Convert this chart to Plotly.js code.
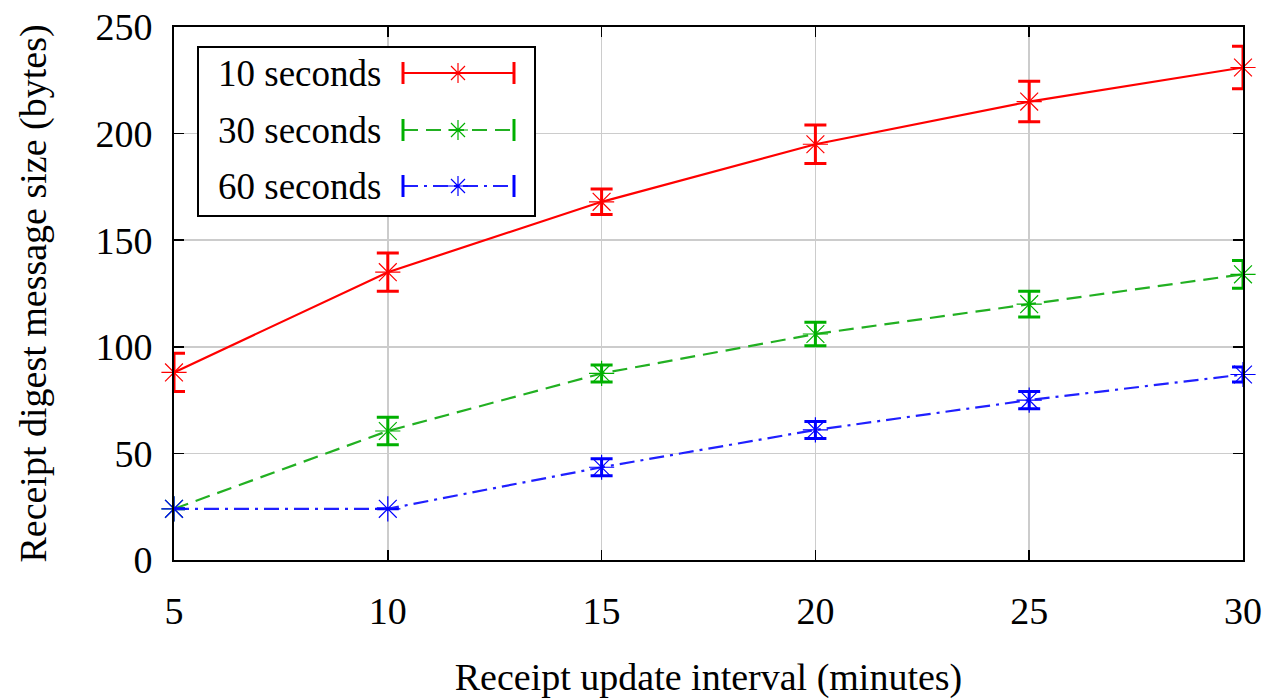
<!DOCTYPE html>
<html>
<head>
<meta charset="utf-8">
<script src="https://cdn.plot.ly/plotly-3.0.1.min.js"></script>
<style>html,body{margin:0;padding:0;background:#fff;}#chart{width:1265px;height:699px;}</style>
</head>
<body>
<div id="chart"></div>
<script>
// Data
var intervals = [5, 10, 15, 20, 25, 30];
var s10 = [88, 135, 168, 195, 215, 231];
var s10err = [9, 9, 6, 9, 9.5, 10];
var s30 = [24, 60.5, 87.5, 106, 120, 134];
var s30err = [0, 6.5, 4, 5.5, 6, 6.5];
var s60 = [24, 24, 43.5, 61, 75, 87];
var s60err = [0, 0, 4, 4, 4, 3.5];
var seriesNames = ['10 seconds', '30 seconds', '60 seconds'];
var colors = ['#ff0000', '#00b000', '#0000ff'];
var lineColors = ['#ff0000', '#22b022', '#2020ff'];
var dashes = ['solid', '15px,8px', '15px,6px,3px,6px'];
var xTicks = [5, 10, 15, 20, 25, 30];
var yTicks = [0, 50, 100, 150, 200, 250];

var FONT = '"Liberation Serif"';
var L = 174, R = 1243, T = 27, B = 560;
function px(x) { return (x - L) / (R - L); }
function py(y) { return (B - y) / (B - T); }

var ys = [s10, s30, s60];
var errs = [s10err, s30err, s60err];
var traces = [];
for (var i = 0; i < 3; i++) {
  traces.push({
    x: intervals, y: ys[i], name: seriesNames[i], type: 'scatter', mode: 'lines+markers',
    cliponaxis: false,
    line: {color: lineColors[i], width: 2.2, dash: dashes[i]},
    marker: {symbol: 'asterisk-open', size: 21, color: colors[i], line: {color: colors[i], width: 1.2}},
    error_y: {type: 'data', array: errs[i], visible: true, color: colors[i], thickness: 3, width: 11},
    showlegend: false
  });
}

// Legend drawn manually (text left, sample right)
var shapes = [];
var annotations = [];
shapes.push({type: 'rect', xref: 'paper', yref: 'paper', x0: px(198), x1: px(535), y0: py(216), y1: py(47),
  line: {color: '#000', width: 2}, fillcolor: '#fff', layer: 'above'});
var rowsY = [73, 130, 186];
for (var k = 0; k < 3; k++) {
  var yy = py(rowsY[k]);
  annotations.push({xref: 'paper', yref: 'paper', x: px(383), y: yy, xanchor: 'right', yanchor: 'middle',
    text: seriesNames[k], showarrow: false, font: {family: FONT, size: 37, color: '#000'}});
  shapes.push({type: 'line', xref: 'paper', yref: 'paper', x0: px(403), x1: px(514), y0: yy, y1: yy,
    line: {color: lineColors[k], width: 2.2, dash: dashes[k]}, layer: 'above'});
  [403, 514].forEach(function (xc) {
    shapes.push({type: 'line', xref: 'paper', yref: 'paper', xsizemode: 'pixel', ysizemode: 'pixel',
      xanchor: px(xc), yanchor: yy, x0: 0, x1: 0, y0: -11, y1: 11,
      line: {color: colors[k], width: 3}, layer: 'above'});
  });
  shapes.push({type: 'path', xref: 'paper', yref: 'paper', xsizemode: 'pixel', ysizemode: 'pixel',
    xanchor: px(458), yanchor: yy,
    path: 'M0,-10L0,10M-10,0L10,0M-7,-7L7,7M-7,7L7,-7',
    line: {color: colors[k], width: 1.2}, layer: 'above'});
}

var layout = {
  width: 1265, height: 699,
  margin: {l: L, r: 1265 - R, t: T, b: 699 - B},
  paper_bgcolor: '#fff', plot_bgcolor: '#fff',
  font: {family: FONT, size: 38, color: '#000'},
  xaxis: {
    range: [5, 30], tickvals: xTicks, ticktext: xTicks.map(String),
    ticks: 'inside', ticklen: 10, tickcolor: '#000', tickwidth: 1.5,
    showgrid: true, gridcolor: '#cccccc', gridwidth: 1.5,
    showline: true, linecolor: '#000', linewidth: 2, mirror: 'ticks',
    zeroline: false, ticklabelstandoff: 16,
    tickfont: {family: FONT, size: 38, color: '#000'},
    title: {text: 'Receipt update interval (minutes)', font: {family: FONT, size: 38, color: '#000'}, standoff: 38}
  },
  yaxis: {
    range: [0, 250], tickvals: yTicks, ticktext: yTicks.map(String),
    ticks: 'inside', ticklen: 10, tickcolor: '#000', tickwidth: 1.5,
    showgrid: true, gridcolor: '#cccccc', gridwidth: 1.5,
    showline: true, linecolor: '#000', linewidth: 2, mirror: 'ticks',
    zeroline: false, ticklabelstandoff: 12,
    tickfont: {family: FONT, size: 38, color: '#000'},
    title: {text: 'Receipt digest message size (bytes)', font: {family: FONT, size: 38, color: '#000'}, standoff: 37}
  },
  shapes: shapes,
  annotations: annotations,
  showlegend: false
};

Plotly.newPlot('chart', traces, layout, {displayModeBar: false, staticPlot: true});
</script>
</body>
</html>
